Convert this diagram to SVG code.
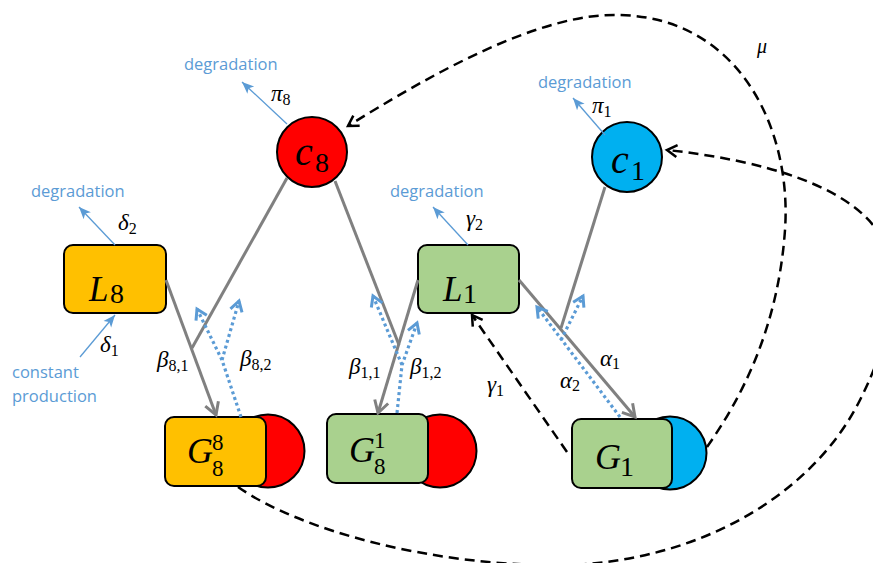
<svg xmlns="http://www.w3.org/2000/svg" width="873" height="563" viewBox="0 0 873 563">
<style>
.bg{fill:#ffffff}
.nodeS{stroke:#000;stroke-width:2}
.orange{fill:#FFC000}
.green{fill:#A9D18E}
.red{fill:#FF0000}
.cyan{fill:#00B0F0}
.math{font-family:"Liberation Serif","DejaVu Serif",serif;fill:#000}
.it{font-style:italic}
.lbl{font-family:"Open Sans","Liberation Sans",sans-serif;font-size:16.5px;fill:#5B9BD5}
.gray{stroke:#808080;stroke-width:3;fill:none}
.dot{stroke:#5B9BD5;stroke-width:3.2;stroke-dasharray:3 3;fill:none}
.thin{stroke:#5B9BD5;stroke-width:1.3;fill:none}
.dash{stroke:#000;stroke-width:2.5;stroke-dasharray:10 6;fill:none}
</style>
<defs>
<marker id="mGray" markerUnits="userSpaceOnUse" markerWidth="18" markerHeight="18" viewBox="0 0 18 18" refX="15" refY="9" orient="auto">
<path d="M3,2 L15,9 L3,16" fill="none" stroke="#808080" stroke-width="3"/>
</marker>
<marker id="mBlue" markerUnits="userSpaceOnUse" markerWidth="16" markerHeight="16" viewBox="0 0 16 16" refX="13" refY="8" orient="auto">
<path d="M3,2 L13,8 L3,14" fill="none" stroke="#5B9BD5" stroke-width="3"/>
</marker>
<marker id="mBlack" markerUnits="userSpaceOnUse" markerWidth="16" markerHeight="16" viewBox="0 0 16 16" refX="13" refY="8" orient="auto">
<path d="M3,2 L13,8 L3,14" fill="none" stroke="#000" stroke-width="2.5"/>
</marker>
<marker id="mTri" markerUnits="userSpaceOnUse" markerWidth="14" markerHeight="14" viewBox="0 0 14 14" refX="12" refY="7" orient="auto">
<path d="M0,2 L12,7 L0,12 L3,7 Z" fill="#5B9BD5"/>
</marker>
</defs>
<rect class="bg" x="0" y="0" width="873" height="563"/>

<g id="node-c8">
<circle class="red nodeS" cx="312" cy="152" r="35"/>
<text class="math" y="165"><tspan class="it" x="295" font-size="40">c</tspan><tspan x="315" y="172" font-size="28">8</tspan></text>
</g>
<g id="node-c1">
<circle class="cyan nodeS" cx="627" cy="157" r="35"/>
<text class="math" y="173"><tspan class="it" x="611" font-size="40">c</tspan><tspan x="631" y="180" font-size="28">1</tspan></text>
</g>
<g id="node-L8">
<rect class="orange nodeS" x="64" y="245" width="102" height="68" rx="9"/>
<text class="math" y="301"><tspan class="it" x="89" font-size="35">L</tspan><tspan x="110" y="303" font-size="28">8</tspan></text>
</g>
<g id="node-L1">
<rect class="green nodeS" x="418" y="245" width="101" height="68" rx="9"/>
<text class="math" y="301"><tspan class="it" x="443" font-size="35">L</tspan><tspan x="463" y="303" font-size="28">1</tspan></text>
</g>
<g id="node-G88">
<circle class="red nodeS" cx="268" cy="451" r="36.5"/>
<rect class="orange nodeS" x="165" y="417" width="101" height="69" rx="9"/>
<text class="math it" x="187" y="463" font-size="36">G</text>
<text class="math" x="212" y="450" font-size="23">8</text>
<text class="math" x="212" y="476" font-size="23">8</text>
</g>
<g id="node-G81">
<circle class="red nodeS" cx="440" cy="451" r="36.5"/>
<rect class="green nodeS" x="327" y="414" width="101" height="69" rx="9"/>
<text class="math it" x="349" y="462" font-size="36">G</text>
<text class="math" x="374" y="448" font-size="23">1</text>
<text class="math" x="374" y="474" font-size="23">8</text>
</g>
<g id="node-G1">
<circle class="cyan nodeS" cx="670" cy="453" r="36.5"/>
<rect class="green nodeS" x="572" y="419" width="100" height="69" rx="9"/>
<text class="math"><tspan class="it" x="595" y="469" font-size="36">G</tspan><tspan x="620" y="476" font-size="28">1</tspan></text>
</g>

<g id="connectors">
<line class="thin" x1="287" y1="124" x2="242" y2="82" marker-end="url(#mTri)"/>
<line class="thin" x1="115" y1="245" x2="79" y2="207" marker-end="url(#mTri)"/>
<line class="thin" x1="80" y1="357" x2="115" y2="315" marker-end="url(#mTri)"/>
<line class="thin" x1="605" y1="135" x2="573" y2="98" marker-end="url(#mTri)"/>
<line class="thin" x1="468" y1="245" x2="433" y2="207" marker-end="url(#mTri)"/>
<line class="gray" x1="287" y1="178" x2="192" y2="348"/>
<line class="gray" x1="166" y1="280" x2="216" y2="415" marker-end="url(#mGray)"/>
<line class="gray" x1="335" y1="181" x2="399" y2="345"/>
<line class="gray" x1="418" y1="280" x2="378" y2="413" marker-end="url(#mGray)"/>
<line class="gray" x1="605" y1="187" x2="561" y2="328"/>
<line class="gray" x1="519" y1="280" x2="635" y2="417" marker-end="url(#mGray)"/>
<path class="dot" d="M241,417 L222,360 L197,309" marker-end="url(#mBlue)"/>
<path class="dot" d="M222,360 L239,301" marker-end="url(#mBlue)"/>
<path class="dot" d="M397,413 L402,365 L417,323" marker-end="url(#mBlue)"/>
<path class="dot" d="M402,365 L373,296" marker-end="url(#mBlue)"/>
<path class="dot" d="M620,417 L537,307" marker-end="url(#mBlue)"/>
<path class="dot" d="M561,340 L583,296" marker-end="url(#mBlue)"/>
<line class="dash" x1="567" y1="452" x2="472" y2="315" marker-end="url(#mBlack)"/>
<path class="dash" d="M707,447 C740,400 778,330 785,230 C792,130 740,18 620,15 C540,12 430,75 348,126" marker-end="url(#mBlack)"/>
<path class="dash" d="M238,487 C300,530 430,566 560,565 C690,564 810,500 860,400 C890,340 905,280 880,235 C850,185 760,160 667,150" marker-end="url(#mBlack)"/>
</g>

<g id="labels">
<text class="lbl" x="184" y="70">degradation</text>
<text class="lbl" x="31" y="197">degradation</text>
<text class="lbl" x="538" y="88">degradation</text>
<text class="lbl" x="390" y="197">degradation</text>
<text class="lbl" x="12" y="378">constant</text>
<text class="lbl" x="12" y="402">production</text>
<text class="math" font-size="23"><tspan class="it" x="271" y="101">π</tspan><tspan font-size="16" dy="4">8</tspan></text>
<text class="math" font-size="23"><tspan class="it" x="592" y="113">π</tspan><tspan font-size="16" dy="4">1</tspan></text>
<text class="math" font-size="23"><tspan class="it" x="118" y="230">δ</tspan><tspan font-size="16" dy="4">2</tspan></text>
<text class="math" font-size="23"><tspan class="it" x="100" y="352">δ</tspan><tspan font-size="16" dy="4">1</tspan></text>
<text class="math" font-size="23"><tspan class="it" x="466" y="226">γ</tspan><tspan font-size="16" dy="4">2</tspan></text>
<text class="math" font-size="23"><tspan class="it" x="487" y="392">γ</tspan><tspan font-size="16" dy="4">1</tspan></text>
<text class="math" font-size="23"><tspan class="it" x="157" y="367">β</tspan><tspan font-size="16" dy="4">8,1</tspan></text>
<text class="math" font-size="23"><tspan class="it" x="240" y="366">β</tspan><tspan font-size="16" dy="4">8,2</tspan></text>
<text class="math" font-size="23"><tspan class="it" x="349" y="374">β</tspan><tspan font-size="16" dy="4">1,1</tspan></text>
<text class="math" font-size="23"><tspan class="it" x="410" y="374">β</tspan><tspan font-size="16" dy="4">1,2</tspan></text>
<text class="math" font-size="23"><tspan class="it" x="600" y="366">α</tspan><tspan font-size="16" dy="3">1</tspan></text>
<text class="math" font-size="23"><tspan class="it" x="560" y="388">α</tspan><tspan font-size="16" dy="3">2</tspan></text>
<text class="math it" font-size="20" x="757" y="53">μ</text>
</g>
</svg>
